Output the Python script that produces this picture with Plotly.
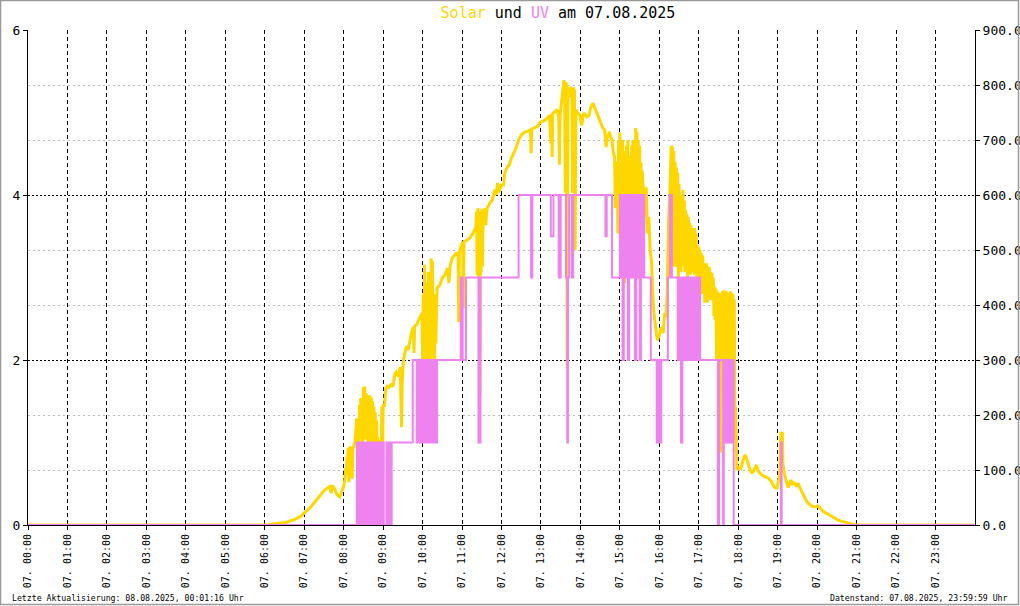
import plotly.graph_objects as go

DAY = "2025-08-07"

# ---------------- data ----------------
solar_times = [
    "00:00", "06:05", "06:12", "06:30", "06:45", "06:55", "07:00", "07:08", "07:15", "07:22",
    "07:30", "07:35", "07:39", "07:41", "07:43", "07:46", "07:50", "07:54", "07:57", "08:00",
    "08:02", "08:03", "08:04", "08:05", "08:06", "08:07", "08:08", "08:09", "08:11", "08:13",
    "08:14", "08:17", "08:20", "08:21", "08:22", "08:23", "08:24", "08:25", "08:26", "08:27",
    "08:28", "08:29", "08:30", "08:31", "08:32", "08:33", "08:34", "08:35", "08:36", "08:37",
    "08:38", "08:39", "08:40", "08:41", "08:42", "08:43", "08:44", "08:45", "08:46", "08:47",
    "08:48", "08:49", "08:50", "08:51", "08:52", "08:53", "08:54", "08:55", "08:56", "08:57",
    "08:58", "08:59", "09:00", "09:02", "09:04", "09:06", "09:09", "09:12", "09:15", "09:18",
    "09:20", "09:23", "09:26", "09:27", "09:28", "09:29", "09:31", "09:34", "09:36", "09:38",
    "09:40", "09:43", "09:46", "09:47", "09:48", "09:51", "09:55", "09:59", "10:00", "10:01",
    "10:02", "10:03", "10:04", "10:05", "10:06", "10:07", "10:08", "10:09", "10:10", "10:11",
    "10:12", "10:13", "10:14", "10:15", "10:16", "10:17", "10:18", "10:19", "10:20", "10:22",
    "10:26", "10:30", "10:34", "10:38", "10:40", "10:42", "10:45", "10:48", "10:51", "10:54",
    "10:55", "10:56", "10:58", "11:01", "11:02", "11:03", "11:08", "11:12", "11:17", "11:21",
    "11:22", "11:23", "11:24", "11:25", "11:26", "11:27", "11:28", "11:29", "11:30", "11:31",
    "11:32", "11:35", "11:36", "11:38", "11:42", "11:46", "11:48", "11:50", "11:52", "11:54",
    "11:56", "11:58", "12:00", "12:03", "12:05", "12:08", "12:12", "12:15", "12:19", "12:22",
    "12:26", "12:30", "12:35", "12:40", "12:44", "12:45", "12:46", "12:50", "12:55", "12:58",
    "13:02", "13:06", "13:10", "13:13", "13:15", "13:16", "13:17", "13:18", "13:21", "13:25",
    "13:27", "13:28", "13:29", "13:31", "13:33", "13:35", "13:36", "13:37", "13:38", "13:39",
    "13:40", "13:41", "13:43", "13:45", "13:47", "13:48", "13:49", "13:51", "13:52", "13:53",
    "13:56", "13:59", "14:02", "14:05", "14:10", "14:13", "14:16", "14:19", "14:22", "14:25",
    "14:28", "14:31", "14:34", "14:37", "14:39", "14:41", "14:44", "14:46", "14:48", "14:50",
    "14:52", "14:53", "14:54", "14:56", "14:57", "14:58", "14:59", "15:00", "15:01", "15:02",
    "15:03", "15:04", "15:05", "15:06", "15:07", "15:08", "15:09", "15:10", "15:11", "15:12",
    "15:13", "15:14", "15:15", "15:16", "15:17", "15:18", "15:19", "15:20", "15:21", "15:22",
    "15:23", "15:24", "15:25", "15:26", "15:27", "15:28", "15:29", "15:30", "15:31", "15:32",
    "15:33", "15:34", "15:36", "15:38", "15:40", "15:42", "15:44", "15:46", "15:48", "15:50",
    "15:51", "15:53", "15:55", "15:57", "16:00", "16:03", "16:06", "16:08", "16:10", "16:12",
    "16:14", "16:16", "16:18", "16:20", "16:21", "16:22", "16:23", "16:24", "16:25", "16:26",
    "16:27", "16:28", "16:29", "16:30", "16:31", "16:32", "16:33", "16:34", "16:35", "16:36",
    "16:37", "16:38", "16:39", "16:40", "16:41", "16:42", "16:43", "16:44", "16:45", "16:46",
    "16:47", "16:48", "16:49", "16:50", "16:51", "16:52", "16:53", "16:54", "16:55", "16:56",
    "16:57", "16:58", "16:59", "17:00", "17:01", "17:02", "17:03", "17:04", "17:05", "17:06",
    "17:07", "17:08", "17:09", "17:10", "17:11", "17:12", "17:13", "17:14", "17:15", "17:16",
    "17:17", "17:18", "17:19", "17:20", "17:21", "17:22", "17:23", "17:24", "17:25", "17:26",
    "17:27", "17:28", "17:29", "17:30", "17:31", "17:32", "17:33", "17:34", "17:35", "17:36",
    "17:37", "17:38", "17:39", "17:40", "17:41", "17:42", "17:43", "17:44", "17:45", "17:46",
    "17:47", "17:48", "17:49", "17:50", "17:51", "17:52", "17:53", "17:54", "17:55", "17:56",
    "17:58", "18:01", "18:04", "18:07", "18:09", "18:11", "18:13", "18:15", "18:18", "18:21",
    "18:24", "18:26", "18:28", "18:30", "18:33", "18:36", "18:39", "18:42", "18:44", "18:46",
    "18:48", "18:50", "18:53", "18:56", "18:59", "19:01", "19:03", "19:04", "19:05", "19:07",
    "19:08", "19:10", "19:12", "19:14", "19:16", "19:18", "19:20", "19:22", "19:25", "19:28",
    "19:31", "19:34", "19:36", "19:38", "19:40", "19:43", "19:46", "19:49", "19:52", "19:55",
    "19:58", "20:01", "20:03", "20:06", "20:09", "20:12", "20:16", "20:20", "20:24", "20:28",
    "20:32", "20:37", "20:42", "20:47", "20:52", "20:56", "21:00", "23:59",
]
solar_wm2 = [
    0, 0, 2, 4, 10, 16, 22, 30, 40, 51,
    62, 67, 70, 58, 72, 66, 55, 51, 60, 70,
    84, 104, 92, 124, 118, 140, 78, 140, 142, 84,
    138, 150, 194, 150, 190, 88, 218, 155, 231, 158,
    229, 150, 251, 160, 252, 155, 240, 160, 236, 150,
    213, 152, 236, 150, 232, 158, 225, 150, 215, 155,
    205, 140, 190, 130, 160, 113, 155, 120, 150, 95,
    215, 100, 220, 215, 248, 252, 250, 255, 252, 275,
    278, 270, 287, 224, 178, 260, 300, 318, 325, 318,
    333, 349, 360, 313, 362, 364, 375, 385, 300, 420,
    230, 473, 260, 440, 225, 400, 300, 460, 240, 420,
    280, 485, 230, 480, 330, 400, 260, 420, 330, 431,
    436, 449, 455, 467, 440, 472, 485, 490, 494, 494,
    369, 494, 505, 515, 394, 515, 518, 522, 531, 542,
    570, 455, 576, 451, 570, 236, 565, 460, 575, 470,
    564, 576, 545, 575, 585, 591, 604, 610, 600, 622,
    605, 612, 618, 618, 640, 649, 655, 667, 676, 685,
    700, 709, 714, 716, 718, 676, 720, 722, 725, 731,
    733, 736, 740, 745, 694, 747, 669, 749, 751, 755,
    740, 655, 745, 767, 791, 809, 795, 604, 805, 800,
    285, 796, 778, 796, 793, 604, 795, 790, 500, 755,
    749, 745, 727, 749, 742, 745, 760, 767, 758, 749,
    740, 730, 722, 718, 687, 705, 715, 705, 700, 676,
    669, 576, 660, 645, 530, 700, 540, 714, 520, 690,
    480, 700, 540, 680, 440, 660, 500, 690, 530, 700,
    470, 672, 520, 640, 500, 690, 540, 700, 520, 680,
    560, 722, 540, 715, 480, 700, 520, 690, 500, 660,
    540, 645, 600, 560, 614, 530, 560, 500, 480, 420,
    396, 373, 350, 336, 345, 360, 349, 385, 378, 422,
    549, 600, 689, 685, 470, 680, 500, 660, 469, 650,
    520, 640, 445, 620, 480, 600, 460, 585, 470, 609,
    480, 590, 460, 573, 470, 565, 451, 560, 470, 550,
    455, 545, 470, 540, 460, 536, 455, 540, 470, 530,
    451, 509, 440, 505, 420, 500, 430, 494, 420, 490,
    425, 476, 404, 470, 410, 476, 404, 465, 410, 469,
    409, 460, 415, 458, 409, 450, 380, 433, 373, 430,
    300, 425, 320, 422, 210, 420, 132, 422, 300, 425,
    294, 427, 300, 422, 294, 425, 300, 420, 294, 422,
    300, 425, 294, 422, 250, 420, 215, 410, 155, 215,
    100, 105, 103, 118, 124, 127, 118, 113, 100, 94,
    100, 104, 109, 98, 94, 91, 89, 87, 85, 85,
    82, 80, 73, 68, 67, 80, 92, 140, 167, 167,
    110, 95, 82, 75, 68, 76, 82, 73, 78, 70,
    76, 67, 62, 55, 50, 45, 40, 36, 34, 33,
    33, 35, 33, 29, 25, 23, 20, 17, 14, 12,
    9, 7, 5, 4, 2, 1, 0, 0,
]

uv_times = [
    "00:00",
    "08:20", "08:21", "08:22", "08:23", "08:26", "08:27", "08:28", "08:29", "08:30", "08:31",
    "08:32", "08:33", "08:34", "08:35", "08:38", "08:39", "08:40", "08:41", "08:42", "08:43",
    "08:44", "08:45", "08:46", "08:47", "08:48", "08:49", "08:50", "08:51", "08:52", "08:53",
    "08:54", "08:55", "08:58", "08:59", "09:00", "09:01", "09:05", "09:06", "09:07", "09:08",
    "09:09", "09:10", "09:11", "09:12", "09:13", "09:45", "09:51", "09:52", "09:53", "09:54",
    "09:55", "09:56", "09:57", "09:58", "10:01", "10:02", "10:03", "10:04", "10:05", "10:06",
    "10:07", "10:08", "10:09", "10:10", "10:13", "10:14", "10:15", "10:16", "10:17", "10:18",
    "10:19", "10:20", "10:21", "10:22", "10:58", "11:01", "11:06", "11:25", "11:28", "12:26",
    "12:45", "12:47", "13:15", "13:19", "13:27", "13:30", "13:38", "13:40", "13:41", "13:43",
    "13:47", "13:49", "14:38", "14:40", "14:48", "15:00", "15:01", "15:02", "15:03", "15:04",
    "15:06", "15:07", "15:08", "15:09", "15:10", "15:11", "15:12", "15:14", "15:15", "15:16",
    "15:17", "15:20", "15:21", "15:22", "15:23", "15:25", "15:26", "15:27", "15:28", "15:29",
    "15:30", "15:32", "15:33", "15:34", "15:35", "15:36", "15:37", "15:47", "15:56", "15:58",
    "16:01", "16:03", "16:13", "16:16", "16:19", "16:28", "16:29", "16:30", "16:31", "16:32",
    "16:33", "16:35", "16:38", "16:39", "16:40", "16:41", "16:42", "16:43", "16:44", "16:45",
    "16:46", "16:47", "16:48", "16:49", "16:50", "16:51", "16:52", "16:53", "16:54", "16:55",
    "16:56", "16:57", "16:58", "16:59", "17:00", "17:01", "17:02", "17:29", "17:31", "17:37",
    "17:38", "17:39", "17:40", "17:41", "17:42", "17:43", "17:44", "17:45", "17:46", "17:47",
    "17:48", "17:49", "17:50", "17:51", "17:52", "17:53", "19:05", "19:06", "23:59",
]
uv_index = [
    0,
    1, 0, 1, 0, 1, 0, 1, 0, 1, 0,
    1, 0, 1, 0, 1, 0, 1, 0, 1, 0,
    1, 0, 1, 0, 1, 0, 1, 0, 1, 0,
    1, 0, 1, 0, 1, 0, 1, 0, 1, 0,
    1, 0, 1, 0, 1, 2, 1, 2, 1, 2,
    1, 2, 1, 2, 1, 2, 1, 2, 1, 2,
    1, 2, 1, 2, 1, 2, 1, 2, 1, 2,
    1, 2, 1, 2, 3, 2, 3, 1, 3, 4,
    3, 4, 3.5, 4, 3, 4, 3, 1, 3, 4,
    3, 4, 3.5, 4, 3, 4, 3, 4, 3, 2,
    4, 3, 4, 3, 4, 3, 2, 4, 3, 4,
    3, 4, 3, 4, 2, 4, 3, 4, 3, 4,
    2, 4, 3, 4, 3, 4, 3, 2, 1, 2,
    1, 2, 3, 4, 3, 2, 3, 2, 3, 2,
    1, 3, 2, 3, 2, 3, 2, 3, 2, 3,
    2, 3, 2, 3, 2, 3, 2, 3, 2, 3,
    2, 3, 2, 3, 2, 3, 2, 0, 2, 0,
    2, 1, 2, 1, 2, 1, 2, 1, 2, 1,
    2, 1, 2, 1, 2, 0, 1, 0, 0,
]

hour_labels = ["%02d:00" % h for h in range(24)]
uv_ticks = [0, 2, 4, 6]                                        # left axis
solar_ticks = [0, 100, 200, 300, 400, 500, 600, 700, 800, 900]  # right axis
sun_events = ["06:01", "20:58"]   # sunrise / sunset markers

assert len(solar_times) == len(solar_wm2)
assert len(uv_times) == len(uv_index)

# ---------------- styling ----------------
GOLD = "#FFD700"
VIOLET = "#EE82EE"
MONO = "DejaVu Sans Mono"
W, H = 1020, 606
ML, MR, MT, MB = 28, 45, 30, 81
PW, PH = W - ML - MR, H - MT - MB


def ts(t):
    return f"{DAY} {t}"


fig = go.Figure()

# solar on the base axis (drawn first / underneath)
fig.add_trace(go.Scatter(
    x=[ts(t) for t in solar_times], y=solar_wm2, yaxis="y",
    mode="lines", line=dict(color=GOLD, width=3), name="Solar",
    hoverinfo="skip",
))
# UV on the overlaying axis (drawn on top)
fig.add_trace(go.Scatter(
    x=[ts(t) for t in uv_times], y=uv_index, yaxis="y2",
    mode="lines", line=dict(color=VIOLET, width=2, shape="hv"), name="UV",
    hoverinfo="skip",
))
fig.add_trace(go.Scatter(
    x=[ts(t) for t in sun_events], y=[-0.07] * len(sun_events), yaxis="y2",
    mode="markers", cliponaxis=False,
    marker=dict(symbol="square-open", size=6, color="red", line=dict(width=1.2, color="red")),
    hoverinfo="skip",
))

solar_minor = [v for v in solar_ticks if v % 300 != 0]

fig.update_layout(
    width=W, height=H,
    margin=dict(l=ML, r=MR, t=MT, b=MB, pad=0),
    paper_bgcolor="white", plot_bgcolor="white",
    showlegend=False,
    font=dict(family=MONO, color="black"),
    title=dict(
        text=f"<span style='color:{GOLD}'>Solar</span> und "
             f"<span style='color:{VIOLET}'>UV</span> am 07.08.2025",
        font=dict(family=MONO, size=15, color="black"),
        xref="container", x=558 / W, xanchor="center",
        yref="container", y=1 - 13 / H, yanchor="middle",
    ),
    xaxis=dict(
        type="date",
        range=[ts("00:00"), "2025-08-08 00:00"],
        tickvals=[ts(h) for h in hour_labels],
        ticktext=[f"07. {h}" for h in hour_labels],
        tickangle=-90,
        tickfont=dict(family=MONO, size=10, color="black"),
        ticks="outside", ticklen=4, tickcolor="black",
        showline=True, linecolor="black", linewidth=1,
        showgrid=True, gridcolor="black", gridwidth=1, griddash="4px,3px",
        zeroline=False, automargin=False,
    ),
    yaxis=dict(
        range=[0, 900], side="right",
        tickvals=solar_ticks, ticktext=[f"{v:.1f}" for v in solar_ticks],
        tickfont=dict(family=MONO, size=13, color="black"),
        ticks="outside", ticklen=4, tickcolor="black",
        showline=True, linecolor="black", linewidth=1,
        showgrid=False,
        minor=dict(tickvals=solar_minor, showgrid=True, gridcolor="#BDBDBD",
                   gridwidth=1, griddash="2px,3px", ticks=""),
        zeroline=False, automargin=False,
    ),
    yaxis2=dict(
        range=[0, 6], overlaying="y", side="left",
        tickvals=uv_ticks, ticktext=[str(v) for v in uv_ticks],
        tickfont=dict(family=MONO, size=13, color="black"),
        ticks="outside", ticklen=4, tickcolor="black",
        showline=True, linecolor="black", linewidth=1,
        showgrid=True, gridcolor="black", gridwidth=1, griddash="2px,2px",
        zeroline=False, automargin=False,
    ),
)

# footer texts
fig.add_annotation(text="Letzte Aktualisierung: 08.08.2025, 00:01:16 Uhr",
                   xref="paper", yref="paper", x=(10 - ML) / PW, y=(H - MB - 598) / PH,
                   xanchor="left", yanchor="middle", showarrow=False,
                   font=dict(family=MONO, size=8.2, color="black"))
fig.add_annotation(text="Datenstand: 07.08.2025, 23:59:59 Uhr",
                   xref="paper", yref="paper", x=(1010 - ML) / PW, y=(H - MB - 598) / PH,
                   xanchor="right", yanchor="middle", showarrow=False,
                   font=dict(family=MONO, size=8.2, color="black"))

# grey frame around the whole image
fig.add_shape(type="rect", xref="paper", yref="paper",
              x0=(0.5 - ML) / PW, x1=(W - 1.5 - ML) / PW,
              y0=(H - MB - (H - 1.5)) / PH, y1=(H - MB - 0.5) / PH,
              line=dict(color="#9A9A9A", width=1.5), fillcolor="rgba(0,0,0,0)", layer="above")

fig.write_html("out.html", config={"displayModeBar": False},
               post_script="document.body.style.margin='0';")
